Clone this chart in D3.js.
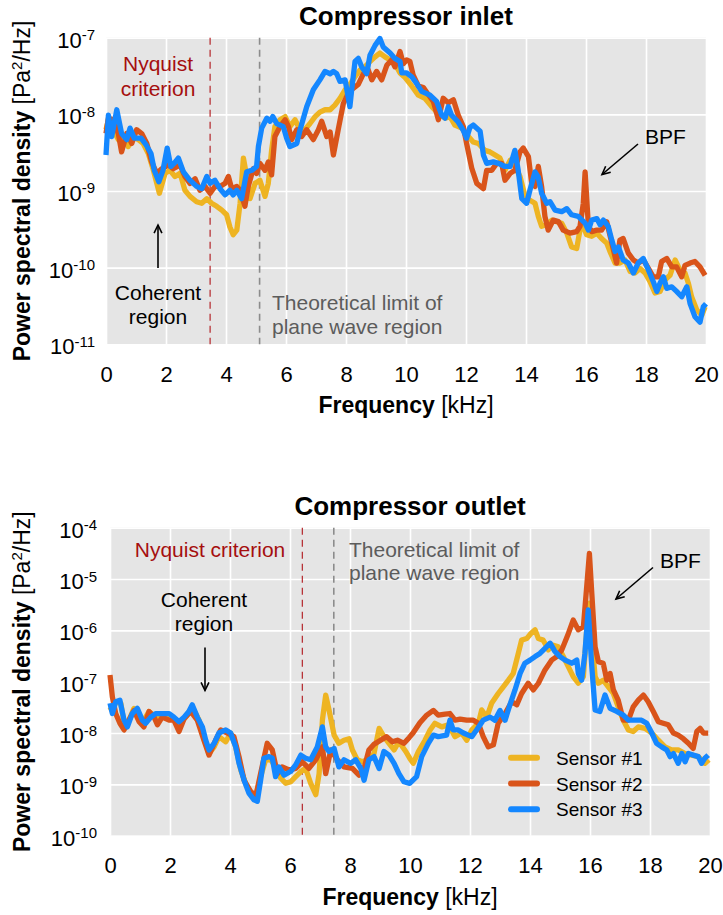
<!DOCTYPE html>
<html>
<head>
<meta charset="utf-8">
<script src="https://cdn.jsdelivr.net/npm/d3@7"></script>
<style>
  body { margin: 0; background: #fff; }
  svg { display: block; }
  text { font-family: "Liberation Sans", Arial, Helvetica, sans-serif; }
</style>
</head>
<body>
<svg id="fig" width="723" height="915"></svg>
<script>
// Frequency axis breaks [kHz] and decade breaks (log10 of PSD) for each panel
const freqTicks = [0, 2, 4, 6, 8, 10, 12, 14, 16, 18, 20];
const inletDecades = [-11, -10, -9, -8, -7];
const outletDecades = [-10, -9, -8, -7, -6, -5, -4];

const sensorNames = ["Sensor #1", "Sensor #2", "Sensor #3"];
const sensorColors = ["#eeb422", "#d9541a", "#1487ff"];

// Reference frequencies [kHz]
const inletNyquist = 3.47, inletPlaneLimit = 5.12;
const outletNyquist = 6.41, outletPlaneLimit = 7.46;

// PSD spectra as [frequency kHz, log10(PSD in Pa^2/Hz)]
const inletS1 = [[0,-8.20],[0.08,-8.07],[0.24,-8.20],[0.41,-8.33],[0.58,-8.29],[0.74,-8.42],[0.91,-8.29],[1.08,-8.33],[1.24,-8.38],[1.41,-8.51],[1.58,-8.73],[1.78,-9.03],[1.97,-8.77],[2.13,-8.73],[2.30,-8.81],[2.47,-8.77],[2.63,-8.99],[2.80,-9.07],[3.02,-9.14],[3.19,-9.16],[3.36,-9.10],[3.52,-9.16],[3.69,-9.20],[3.86,-9.25],[4.02,-9.31],[4.13,-9.47],[4.24,-9.57],[4.36,-9.51],[4.47,-9.16],[4.58,-8.57],[4.69,-8.81],[4.80,-9.10],[4.97,-8.90],[5.13,-8.86],[5.30,-9.07],[5.41,-8.90],[5.52,-8.47],[5.63,-8.16],[5.80,-8.07],[5.97,-8.03],[6.13,-8.16],[6.30,-8.07],[6.47,-8.20],[6.63,-8.20],[6.80,-8.12],[6.97,-8.03],[7.13,-7.97],[7.30,-7.94],[7.47,-7.94],[7.63,-7.88],[7.80,-7.79],[7.97,-7.68],[8.13,-7.61],[8.30,-7.51],[8.47,-7.42],[8.63,-7.38],[8.80,-7.31],[8.97,-7.25],[9.13,-7.20],[9.30,-7.25],[9.47,-7.29],[9.63,-7.34],[9.80,-7.46],[9.97,-7.52],[10.19,-7.63],[10.41,-7.75],[10.63,-7.79],[10.86,-7.90],[11.08,-7.99],[11.30,-8.05],[11.47,-8.03],[11.63,-8.14],[11.86,-8.18],[12.08,-8.29],[12.24,-8.36],[12.41,-8.38],[12.63,-8.47],[12.80,-8.49],[12.97,-8.53],[13.13,-8.57],[13.30,-8.73],[13.47,-8.60],[13.63,-8.68],[13.80,-8.81],[13.97,-9.07],[14.13,-9.12],[14.30,-9.16],[14.41,-9.33],[14.52,-9.46],[14.69,-9.44],[14.86,-9.38],[15.02,-9.40],[15.19,-9.42],[15.36,-9.55],[15.52,-9.73],[15.69,-9.75],[15.80,-9.51],[15.91,-9.46],[16.02,-9.57],[16.19,-9.59],[16.36,-9.55],[16.52,-9.62],[16.69,-9.68],[16.80,-9.79],[16.97,-9.94],[17.13,-9.94],[17.30,-9.90],[17.47,-10.05],[17.63,-10.07],[17.80,-10.01],[17.97,-10.07],[18.13,-10.18],[18.30,-10.33],[18.47,-10.31],[18.63,-10.16],[18.80,-10.10],[18.97,-9.90],[19.13,-10.03],[19.30,-10.07],[19.41,-10.20],[19.52,-10.38],[19.69,-10.55],[19.86,-10.62],[19.97,-10.51]];

const inletS2 = [[0,-8.25],[0.08,-8.05],[0.24,-8.07],[0.41,-8.25],[0.52,-8.49],[0.69,-8.25],[0.86,-8.38],[1.02,-8.20],[1.19,-8.25],[1.36,-8.38],[1.52,-8.62],[1.69,-8.77],[1.86,-8.71],[2.08,-8.66],[2.24,-8.71],[2.47,-8.66],[2.63,-8.81],[2.80,-8.90],[2.97,-8.84],[3.13,-8.99],[3.30,-8.94],[3.47,-9.03],[3.63,-8.94],[3.80,-8.94],[3.97,-8.90],[4.08,-8.81],[4.19,-8.97],[4.36,-8.94],[4.47,-8.99],[4.63,-9.20],[4.74,-8.94],[4.91,-8.71],[5.02,-8.77],[5.13,-8.64],[5.30,-8.73],[5.41,-8.62],[5.52,-8.79],[5.63,-8.29],[5.80,-8.16],[5.97,-8.07],[6.08,-8.16],[6.19,-8.33],[6.36,-8.20],[6.52,-8.29],[6.69,-8.20],[6.91,-8.33],[7.08,-8.20],[7.19,-8.09],[7.36,-8.29],[7.47,-8.23],[7.58,-8.53],[7.74,-8.20],[7.91,-7.86],[8.08,-7.72],[8.24,-7.66],[8.41,-7.61],[8.58,-7.47],[8.74,-7.42],[8.86,-7.55],[9.02,-7.44],[9.19,-7.55],[9.36,-7.36],[9.52,-7.29],[9.63,-7.38],[9.80,-7.18],[9.91,-7.34],[10.02,-7.29],[10.13,-7.31],[10.24,-7.49],[10.41,-7.63],[10.58,-7.65],[10.74,-7.74],[10.91,-7.83],[11.08,-8.07],[11.24,-7.79],[11.41,-7.85],[11.58,-7.81],[11.74,-8.01],[11.91,-8.16],[12.02,-8.38],[12.19,-8.70],[12.36,-8.90],[12.58,-8.97],[12.69,-8.73],[12.86,-8.73],[13.02,-8.64],[13.19,-8.64],[13.30,-8.86],[13.47,-8.77],[13.63,-8.73],[13.80,-8.49],[13.91,-8.44],[14.08,-8.55],[14.19,-8.90],[14.30,-8.94],[14.41,-8.68],[14.52,-8.94],[14.63,-9.33],[14.74,-9.51],[14.91,-9.38],[15.08,-9.40],[15.24,-9.51],[15.47,-9.55],[15.69,-9.53],[15.80,-9.46],[15.91,-9.16],[15.97,-8.75],[16.02,-9.07],[16.08,-9.46],[16.19,-9.53],[16.36,-9.51],[16.52,-9.51],[16.69,-9.40],[16.86,-9.68],[17.02,-9.94],[17.13,-9.64],[17.24,-9.62],[17.41,-9.81],[17.58,-9.90],[17.74,-9.94],[17.91,-9.90],[18.08,-10.01],[18.24,-10.12],[18.41,-10.12],[18.52,-9.92],[18.69,-9.88],[18.86,-9.99],[19.02,-9.99],[19.19,-10.12],[19.30,-9.97],[19.47,-9.94],[19.63,-9.92],[19.80,-9.99],[19.97,-10.10]];

const inletS3 = [[0,-8.53],[0.08,-8.01],[0.19,-8.29],[0.36,-7.94],[0.52,-8.25],[0.69,-8.33],[0.80,-8.18],[0.94,-8.31],[1.17,-8.31],[1.34,-8.40],[1.50,-8.51],[1.61,-8.73],[1.76,-8.88],[1.90,-8.73],[2.04,-8.44],[2.16,-8.68],[2.27,-8.64],[2.41,-8.57],[2.58,-8.75],[2.80,-8.86],[3.02,-8.94],[3.19,-8.97],[3.36,-8.81],[3.47,-8.90],[3.63,-8.86],[3.80,-8.97],[3.97,-9.05],[4.13,-8.99],[4.24,-9.05],[4.36,-8.99],[4.52,-9.10],[4.69,-8.75],[4.86,-8.73],[5.02,-8.68],[5.08,-8.42],[5.19,-8.18],[5.36,-8.05],[5.47,-8.09],[5.56,-8.03],[5.69,-8.12],[5.91,-8.16],[6.02,-8.31],[6.13,-8.42],[6.36,-8.38],[6.47,-8.20],[6.69,-7.90],[6.91,-7.68],[7.13,-7.55],[7.30,-7.44],[7.47,-7.47],[7.58,-7.44],[7.69,-7.47],[7.80,-7.57],[7.97,-7.55],[8.13,-7.90],[8.19,-7.68],[8.30,-7.31],[8.41,-7.27],[8.52,-7.38],[8.69,-7.47],[8.80,-7.23],[8.97,-7.10],[9.13,-7.01],[9.24,-7.12],[9.47,-7.20],[9.63,-7.27],[9.80,-7.31],[9.86,-7.46],[10.02,-7.46],[10.19,-7.51],[10.36,-7.60],[10.52,-7.70],[10.80,-7.75],[11.02,-7.83],[11.19,-8.01],[11.30,-8.05],[11.41,-7.90],[11.52,-8.01],[11.74,-8.10],[11.91,-8.21],[12.02,-8.31],[12.13,-8.17],[12.24,-8.14],[12.47,-8.22],[12.58,-8.53],[12.69,-8.64],[12.91,-8.62],[13.08,-8.64],[13.30,-8.68],[13.47,-8.68],[13.63,-8.47],[13.74,-8.73],[13.86,-9.10],[14.02,-9.16],[14.13,-8.99],[14.30,-8.75],[14.41,-8.82],[14.52,-9.03],[14.69,-9.16],[14.80,-9.14],[14.97,-9.25],[15.19,-9.27],[15.36,-9.23],[15.52,-9.31],[15.74,-9.33],[15.97,-9.42],[16.08,-9.51],[16.19,-9.38],[16.36,-9.36],[16.47,-9.44],[16.58,-9.38],[16.74,-9.46],[16.86,-9.64],[16.97,-9.79],[17.08,-9.73],[17.24,-9.90],[17.41,-9.94],[17.58,-10.07],[17.74,-9.94],[17.91,-9.88],[18.08,-10.03],[18.24,-10.18],[18.36,-10.31],[18.47,-10.20],[18.58,-10.12],[18.69,-10.27],[18.86,-10.25],[19.02,-10.31],[19.19,-10.38],[19.36,-10.25],[19.47,-10.47],[19.63,-10.64],[19.80,-10.71],[19.91,-10.51],[20.00,-10.47]];

const outletS1 = [[0,-7.49],[0.08,-7.58],[0.19,-7.39],[0.36,-7.42],[0.47,-7.81],[0.63,-7.75],[0.80,-7.52],[0.97,-7.69],[1.13,-7.75],[1.30,-7.58],[1.52,-7.69],[1.74,-7.65],[1.97,-7.65],[2.13,-7.72],[2.30,-7.84],[2.52,-7.69],[2.74,-7.49],[2.97,-7.75],[3.13,-8.07],[3.30,-8.40],[3.47,-8.27],[3.63,-8.07],[3.86,-8.17],[4.02,-8.00],[4.19,-8.27],[4.36,-8.72],[4.52,-8.98],[4.69,-9.17],[4.86,-9.23],[5.02,-8.85],[5.19,-8.52],[5.36,-8.52],[5.52,-8.66],[5.69,-8.88],[5.86,-8.98],[6.02,-8.95],[6.19,-8.85],[6.36,-8.75],[6.52,-8.69],[6.69,-8.98],[6.86,-9.20],[6.97,-8.79],[7.08,-7.75],[7.19,-7.26],[7.30,-7.55],[7.47,-8.04],[7.63,-8.20],[7.80,-8.14],[7.97,-8.11],[8.08,-8.33],[8.24,-8.52],[8.41,-8.56],[8.58,-8.52],[8.80,-8.40],[8.97,-7.91],[9.13,-8.07],[9.30,-8.20],[9.47,-8.33],[9.63,-8.17],[9.86,-8.36],[10.00,-8.50],[10.11,-8.59],[10.28,-8.36],[10.50,-8.14],[10.67,-7.94],[10.83,-7.81],[11.06,-7.88],[11.28,-7.84],[11.50,-8.07],[11.72,-8.00],[11.89,-8.14],[12.06,-7.94],[12.28,-7.81],[12.39,-7.55],[12.56,-7.69],[12.72,-7.42],[12.94,-7.23],[13.11,-7.10],[13.28,-6.97],[13.44,-6.84],[13.61,-6.45],[13.72,-6.19],[13.89,-6.16],[14.03,-6.06],[14.17,-5.99],[14.28,-6.16],[14.44,-6.19],[14.61,-6.38],[14.78,-6.29],[14.94,-6.32],[15.11,-6.51],[15.28,-6.71],[15.44,-6.90],[15.61,-7.03],[15.78,-6.90],[15.89,-5.99],[15.98,-5.47],[16.06,-6.13],[16.17,-6.90],[16.28,-7.03],[16.44,-6.97],[16.61,-7.10],[16.78,-7.23],[16.94,-7.49],[17.11,-7.75],[17.28,-7.94],[17.44,-7.97],[17.61,-7.88],[17.83,-7.91],[18.06,-8.00],[18.28,-8.14],[18.50,-8.27],[18.72,-8.33],[18.94,-8.33],[19.17,-8.40],[19.39,-8.43],[19.61,-8.46],[19.83,-8.59],[19.96,-8.52]];

const outletS2 = [[0,-6.87],[0.08,-7.30],[0.19,-7.62],[0.33,-7.81],[0.47,-7.94],[0.63,-7.75],[0.80,-7.56],[0.97,-7.78],[1.13,-7.88],[1.30,-7.58],[1.47,-7.69],[1.58,-7.84],[1.74,-7.69],[1.97,-7.75],[2.13,-7.75],[2.30,-7.97],[2.47,-7.72],[2.69,-7.58],[2.91,-7.75],[3.13,-8.14],[3.30,-8.43],[3.52,-8.14],[3.69,-7.94],[3.91,-8.00],[4.13,-8.07],[4.30,-8.46],[4.47,-8.92],[4.69,-9.14],[4.86,-9.23],[5.02,-8.79],[5.24,-8.20],[5.41,-8.33],[5.58,-8.79],[5.74,-8.66],[5.97,-8.72],[6.19,-8.69],[6.41,-8.56],[6.63,-8.69],[6.86,-8.52],[7.08,-8.27],[7.19,-8.79],[7.36,-8.33],[7.58,-8.52],[7.80,-8.66],[8.08,-8.69],[8.30,-8.82],[8.47,-8.69],[8.63,-8.33],[8.80,-8.22],[9.02,-8.14],[9.22,-8.07],[9.41,-8.17],[9.58,-8.14],[9.80,-8.20],[9.97,-8.09],[10.10,-8.00],[10.33,-7.80],[10.56,-7.65],[10.78,-7.56],[10.94,-7.65],[11.17,-7.63],[11.33,-7.62],[11.50,-7.75],[11.67,-7.73],[11.89,-7.75],[12.11,-7.75],[12.28,-7.81],[12.44,-8.07],[12.61,-8.27],[12.78,-8.23],[12.94,-7.81],[13.17,-7.62],[13.39,-7.39],[13.56,-7.45],[13.72,-7.23],[13.94,-7.03],[14.11,-7.16],[14.28,-7.03],[14.50,-6.77],[14.72,-6.58],[14.89,-6.51],[15.06,-6.38],[15.28,-6.06],[15.44,-5.80],[15.61,-5.99],[15.78,-5.93],[15.89,-5.15],[15.98,-4.50],[16.06,-5.28],[16.17,-6.32],[16.28,-6.61],[16.44,-6.64],[16.56,-6.97],[16.67,-6.84],[16.78,-7.16],[16.94,-7.36],[17.11,-7.75],[17.28,-7.75],[17.44,-7.49],[17.61,-7.36],[17.78,-7.26],[17.94,-7.39],[18.11,-7.58],[18.28,-7.78],[18.44,-7.81],[18.61,-7.84],[18.78,-8.00],[18.94,-8.04],[19.11,-8.11],[19.28,-8.20],[19.44,-8.30],[19.56,-7.97],[19.67,-7.91],[19.78,-8.00],[19.94,-8.00]];

const outletS3 = [[0,-7.42],[0.08,-7.62],[0.19,-7.39],[0.33,-7.36],[0.47,-7.75],[0.58,-7.88],[0.74,-7.62],[0.91,-7.52],[1.08,-7.75],[1.19,-7.81],[1.36,-7.69],[1.52,-7.62],[1.74,-7.62],[1.97,-7.62],[2.13,-7.69],[2.30,-7.78],[2.47,-7.69],[2.63,-7.58],[2.74,-7.45],[2.91,-7.69],[3.08,-7.88],[3.19,-8.14],[3.30,-8.33],[3.47,-8.20],[3.63,-8.00],[3.86,-7.94],[4.02,-8.00],[4.19,-8.27],[4.30,-8.59],[4.47,-8.92],[4.63,-9.17],[4.80,-9.30],[4.91,-9.33],[5.02,-8.92],[5.13,-8.49],[5.30,-8.46],[5.41,-8.49],[5.52,-8.85],[5.63,-8.66],[5.80,-8.82],[6.02,-8.75],[6.19,-8.62],[6.36,-8.43],[6.52,-8.49],[6.69,-8.52],[6.91,-8.27],[7.08,-7.88],[7.19,-8.27],[7.30,-8.36],[7.47,-8.30],[7.63,-8.66],[7.80,-8.52],[8.02,-8.59],[8.19,-8.52],[8.36,-8.69],[8.47,-8.92],[8.63,-8.52],[8.80,-8.46],[8.97,-8.69],[9.13,-8.36],[9.30,-8.43],[9.47,-8.59],[9.63,-8.79],[9.80,-8.95],[9.99,-8.98],[10.22,-8.85],[10.39,-8.46],[10.61,-8.20],[10.78,-8.04],[10.94,-8.07],[11.22,-8.04],[11.33,-7.75],[11.44,-7.94],[11.61,-7.94],[11.78,-8.00],[12.06,-8.07],[12.22,-7.94],[12.44,-7.75],[12.67,-7.69],[12.83,-7.75],[13.00,-7.56],[13.17,-7.75],[13.33,-7.45],[13.50,-7.16],[13.67,-6.84],[13.83,-6.64],[14.00,-6.58],[14.17,-6.51],[14.33,-6.45],[14.50,-6.35],[14.67,-6.25],[14.83,-6.41],[15.00,-6.51],[15.17,-6.58],[15.39,-6.64],[15.56,-6.58],[15.61,-6.84],[15.72,-6.97],[15.83,-6.45],[15.94,-5.60],[16.06,-6.71],[16.17,-7.55],[16.33,-7.58],[16.50,-7.26],[16.67,-7.52],[16.89,-7.58],[17.11,-7.65],[17.28,-7.75],[17.50,-7.75],[17.72,-7.75],[17.89,-7.81],[18.06,-8.00],[18.22,-8.20],[18.39,-8.27],[18.56,-8.33],[18.67,-8.46],[18.78,-8.40],[18.94,-8.59],[19.06,-8.40],[19.17,-8.56],[19.28,-8.40],[19.44,-8.43],[19.61,-8.46],[19.72,-8.59],[19.83,-8.49],[19.94,-8.43]];

const svg = d3.select("#fig");
const PANEL_BG = "#e5e5e5";
const NYQ_COLOR = "#a50f0f";
const LIMIT_COLOR = "#5c5c5c";

// open V arrowhead pointing from (x0,y0) to (x1,y1)
function arrow(g, x0, y0, x1, y1) {
  const a = Math.atan2(y1 - y0, x1 - x0), L = 9, s = 0.45;
  g.append("line").attr("x1", x0).attr("y1", y0).attr("x2", x1).attr("y2", y1)
    .attr("stroke", "#000").attr("stroke-width", 1.6);
  const p = [[x1 - L * Math.cos(a - s), y1 - L * Math.sin(a - s)], [x1, y1],
             [x1 - L * Math.cos(a + s), y1 - L * Math.sin(a + s)]];
  g.append("path").attr("d", d3.line()(p)).attr("fill", "none")
    .attr("stroke", "#000").attr("stroke-width", 1.6);
}

function multiLine(g, x, y, lines, lh, attrs) {
  const t = g.append("text").attr("x", x).attr("y", y);
  Object.entries(attrs).forEach(([k, v]) => t.attr(k, v));
  lines.forEach((s, i) => t.append("tspan").attr("x", x).attr("dy", i ? lh : 0).text(s));
  return t;
}

function drawPanel(o) {
  const g = svg.append("g");
  const W = 600;
  const x = d3.scaleLinear().domain([0, 20]).range([o.left, o.left + W]);
  const y = d3.scaleLog()
    .domain([Math.pow(10, o.decades[0]), Math.pow(10, o.decades[o.decades.length - 1])])
    .range([o.bottom, o.top]);

  g.append("rect").attr("x", o.left).attr("y", o.top)
    .attr("width", W).attr("height", o.bottom - o.top).attr("fill", PANEL_BG);

  // white major gridlines
  g.append("g").call(d3.axisBottom(x).tickValues(freqTicks).tickSize(-(o.bottom - o.top)).tickFormat(""))
    .attr("transform", `translate(0,${o.bottom})`)
    .call(a => a.select(".domain").remove())
    .call(a => a.selectAll("line").attr("stroke", "#fff").attr("stroke-width", 1.6));
  g.append("g").call(d3.axisLeft(y).tickValues(o.decades.map(e => Math.pow(10, e))).tickSize(-W).tickFormat(""))
    .attr("transform", `translate(${o.left},0)`)
    .call(a => a.select(".domain").remove())
    .call(a => a.selectAll("line").attr("stroke", "#fff").attr("stroke-width", 1.6));

  // dashed reference frequencies
  g.append("line").attr("x1", x(o.nyquist)).attr("x2", x(o.nyquist))
    .attr("y1", o.top).attr("y2", o.bottom)
    .attr("stroke", "#b0141a").attr("stroke-width", 1.1).attr("stroke-dasharray", "7,5");
  g.append("line").attr("x1", x(o.limit)).attr("x2", x(o.limit))
    .attr("y1", o.top).attr("y2", o.bottom)
    .attr("stroke", "#8c8c8c").attr("stroke-width", 1.6).attr("stroke-dasharray", "7,5");

  // annotations
  o.annotate(g, x, y);

  // sensor spectra
  const line = d3.line().x(d => x(d[0])).y(d => y(Math.pow(10, d[1])));
  o.series.forEach((s, i) => {
    g.append("path").datum(s).attr("d", line).attr("fill", "none")
      .attr("stroke", sensorColors[i]).attr("stroke-width", 5.3)
      .attr("stroke-linejoin", "round");
  });

  // x tick labels
  g.append("g").attr("transform", `translate(0,${o.bottom})`)
    .call(d3.axisBottom(x).tickValues(freqTicks).tickSize(0).tickFormat(d3.format("d")))
    .call(a => a.select(".domain").remove())
    .call(a => a.selectAll("text").attr("y", 37.5).attr("dy", 0)
      .attr("font-size", 22).attr("fill", "#000")
      .style("font-family", '"Liberation Sans", Arial, sans-serif'));

  // y tick labels as powers of ten
  g.append("g").attr("transform", `translate(${o.left},0)`)
    .call(d3.axisLeft(y).tickValues(o.decades.map(e => Math.pow(10, e))).tickSize(0).tickPadding(o.tickPad).tickFormat(""))
    .call(a => a.select(".domain").remove())
    .call(a => a.selectAll("text").each(function (d) {
      const e = Math.round(Math.log10(d));
      const t = d3.select(this).attr("dy", "0.43em").attr("font-size", 22).attr("fill", "#000")
        .style("font-family", '"Liberation Sans", Arial, sans-serif');
      t.append("tspan").text("10");
      t.append("tspan").attr("dy", "-0.5em").attr("font-size", 15).text("-" + Math.abs(e));
    }));

  // titles
  const cx = o.left + W / 2;
  svg.append("text").attr("x", cx).attr("y", o.top - 13).attr("text-anchor", "middle")
    .attr("font-size", 26).attr("font-weight", "bold").text(o.title);
  const xt = svg.append("text").attr("x", cx).attr("y", o.bottom + 69).attr("text-anchor", "middle")
    .attr("font-size", 23);
  xt.append("tspan").attr("font-weight", "bold").text("Frequency");
  xt.append("tspan").text(" [kHz]");
  const cy = (o.top + o.bottom) / 2;
  const yt = svg.append("text").attr("transform", `translate(30,${cy}) rotate(-90)`)
    .attr("text-anchor", "middle").attr("font-size", 23);
  yt.append("tspan").attr("font-weight", "bold").text("Power spectral density");
  yt.append("tspan").text(" [Pa");
  yt.append("tspan").attr("font-size", 15).attr("dy", "-0.55em").text("2");
  yt.append("tspan").attr("dy", "0.37em").text("/Hz]");

  return { g, x, y };
}

// Compressor inlet
drawPanel({
  title: "Compressor inlet", left: 106, top: 37.7, bottom: 344.3, tickPad: 11,
  decades: inletDecades, nyquist: inletNyquist, limit: inletPlaneLimit,
  series: [inletS1, inletS2, inletS3],
  annotate(g, x, y) {
    multiLine(g, 158, 71, ["Nyquist", "criterion"], 25,
      { "text-anchor": "middle", "font-size": 21, fill: NYQ_COLOR });
    multiLine(g, 158, 300, ["Coherent", "region"], 24,
      { "text-anchor": "middle", "font-size": 21, fill: "#000" });
    arrow(g, 158, 268, 158, 225);
    multiLine(g, 272, 310, ["Theoretical limit of", "plane wave region"], 23.5,
      { "font-size": 21, fill: LIMIT_COLOR });
    g.append("text").attr("x", 645).attr("y", 143.5).attr("font-size", 21).text("BPF");
    arrow(g, 638, 144, 602, 174.5);
  }
});

// Compressor outlet
drawPanel({
  title: "Compressor outlet", left: 110, top: 527.7, bottom: 835.7, tickPad: 13,
  decades: outletDecades, nyquist: outletNyquist, limit: outletPlaneLimit,
  series: [outletS1, outletS2, outletS3],
  annotate(g, x, y) {
    g.append("text").attr("x", 210).attr("y", 556.5).attr("text-anchor", "middle")
      .attr("font-size", 21).attr("fill", NYQ_COLOR).text("Nyquist criterion");
    multiLine(g, 349, 556.5, ["Theoretical limit of", "plane wave region"], 23,
      { "font-size": 21, fill: LIMIT_COLOR });
    multiLine(g, 204, 607, ["Coherent", "region"], 23.5,
      { "text-anchor": "middle", "font-size": 21, fill: "#000" });
    arrow(g, 205, 647.5, 205, 690.5);
    g.append("text").attr("x", 660).attr("y", 567.5).attr("font-size", 21).text("BPF");
    arrow(g, 653, 567.5, 616, 599);

    // legend
    const lg = g.append("g");
    sensorNames.forEach((name, i) => {
      const yy = 757.7 + i * 25.8;
      lg.append("line").attr("x1", 511).attr("x2", 537).attr("y1", yy).attr("y2", yy)
        .attr("stroke", sensorColors[i]).attr("stroke-width", 6).attr("stroke-linecap", "round");
      lg.append("text").attr("x", 556).attr("y", yy + 7).attr("font-size", 19).text(name);
    });
  }
});
</script>
</body>
</html>
